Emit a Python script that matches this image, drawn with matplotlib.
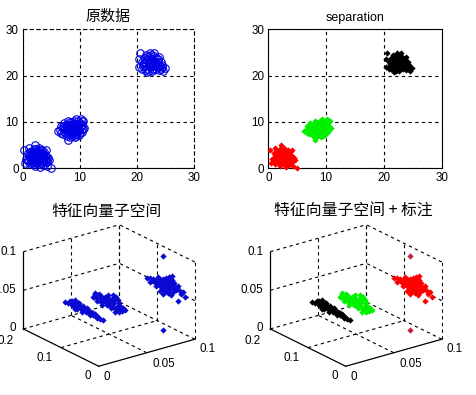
"""Clusters in the original data and in the eigenvector subspace, 2 x 2 panels."""
import matplotlib
matplotlib.use("Agg")
import matplotlib.pyplot as plt
from mpl_toolkits.mplot3d import proj3d

plt.rcParams["font.family"] = ["Liberation Sans", "DejaVu Sans"]

W, H = 477, 395
CJK = ["Noto Sans CJK SC", "DejaVu Sans"]
DASH = (0, (3, 3))

ticks_2d = [0, 10, 20, 30]

# points (x, y)
low_2d = [(0.3, 3.9), (0.4, 1.2), (0.6, 2.0), (1.0, 3.2), (1.1, 4.3), (1.2, 1.0), (2.2, 5.0), (2.3, 4.2),
          (2.8, 4.3), (3.4, 3.9), (4.1, 3.9), (3.6, 3.0), (4.6, 1.8), (4.0, 1.3), (4.9, 0.1), (4.3, 0.6),
          (3.0, 0.3), (2.8, 1.0), (2.0, 0.9), (1.7, 1.3), (1.5, 2.0), (1.8, 3.0), (2.0, 3.6), (2.5, 3.4),
          (3.0, 3.5), (3.3, 2.6), (2.8, 2.3), (2.3, 2.5), (2.5, 1.7), (3.2, 1.8), (3.8, 2.2), (4.2, 2.5),
          (1.2, 2.4), (1.6, 3.7), (2.9, 2.9), (2.1, 1.9),
          (1.0, 1.6), (1.4, 1.1), (1.9, 1.5), (2.4, 1.2), (2.9, 1.5), (3.4, 1.2), (3.9, 1.7), (4.3, 1.5),
          (0.9, 2.1), (1.4, 2.6), (1.9, 2.2), (2.6, 2.1), (3.1, 2.2), (3.6, 1.9), (4.1, 2.0), (1.1, 2.8),
          (1.6, 3.2), (2.2, 2.9), (2.6, 2.8), (3.1, 2.7), (3.6, 2.6), (3.9, 2.9), (1.3, 3.5), (1.9, 3.4),
          (2.4, 3.8), (2.8, 3.3), (3.3, 3.2), (3.7, 3.5), (2.0, 4.1), (3.1, 3.9), (1.6, 1.7), (2.3, 1.4),
          (3.6, 1.4), (4.4, 2.2), (2.1, 0.5), (3.5, 0.8)]
mid_2d = [(6.1, 8.0), (6.7, 7.6), (7.0, 8.6), (7.3, 9.8), (7.7, 7.0), (8.0, 10.2), (8.0, 6.2), (8.6, 10.0),
          (8.5, 7.5), (9.3, 10.7), (9.2, 6.7), (10.2, 10.7), (10.1, 9.8), (10.8, 8.8), (10.4, 7.9), (9.8, 7.2),
          (9.5, 8.3), (8.9, 9.0), (8.2, 8.9), (7.6, 8.2), (7.9, 9.3), (9.0, 7.9), (10.0, 9.0), (9.4, 9.6),
          (8.3, 7.9), (7.2, 7.9), (10.6, 10.3), (9.7, 8.8), (6.7, 9.1),
          (7.1, 7.3), (7.5, 7.7), (8.0, 7.3), (8.6, 6.9), (9.1, 7.3), (9.5, 7.6), (10.0, 7.7), (10.3, 8.4),
          (9.9, 8.3), (9.2, 8.6), (8.6, 8.4), (8.0, 8.3), (7.4, 8.7), (7.7, 9.0), (8.3, 9.4), (8.8, 9.5),
          (9.4, 9.1), (9.9, 9.5), (10.4, 9.3), (7.5, 9.4), (8.2, 9.9), (8.9, 10.3), (9.7, 10.2), (10.3, 10.2),
          (7.1, 9.1), (8.7, 7.9), (9.4, 7.0), (8.3, 6.8), (10.6, 8.4), (6.6, 8.3), (9.0, 8.2)]
high_2d = [(20.5, 24.8), (20.4, 23.5), (20.4, 21.8), (21.0, 22.6), (21.4, 21.2), (21.8, 20.7), (22.2, 24.9),
           (22.3, 23.8), (22.6, 21.0), (23.0, 24.8), (23.2, 23.0), (23.3, 21.4), (23.9, 24.0), (24.2, 23.0),
           (24.1, 21.4), (24.8, 21.6), (24.6, 20.9), (24.4, 22.2), (21.5, 23.3), (22.0, 22.3), (22.7, 22.7),
           (21.9, 23.6), (23.0, 22.0), (23.7, 22.4), (21.4, 22.1),  (22.6, 23.5),
           (20.9, 21.5), (21.2, 23.8), (21.8, 21.5), (22.1, 21.1), (22.3, 21.8), (22.8, 21.5), (23.4, 21.9),
           (23.8, 21.2), (24.3, 21.8), (23.6, 23.0), (23.3, 23.7), (22.9, 24.2), (22.4, 24.4), (21.9, 24.2),
           (21.6, 22.7), (22.2, 23.0), (22.8, 23.2), (23.3, 22.5), (24.0, 22.0), (20.8, 23.0), (21.1, 22.0),
           (22.5, 22.2), (23.7, 23.5), (21.5, 24.4)]

# points (x, y, z)
first_3d = [(0.004, 0.100, 0.058), (0.004, 0.092, 0.058), (0.004, 0.086, 0.062), (0.005, 0.082, 0.056),
            (0.003, 0.078, 0.064), (0.004, 0.075, 0.059), (0.004, 0.072, 0.067), (0.004, 0.072, 0.055),
            (0.005, 0.068, 0.062), (0.003, 0.065, 0.057), (0.004, 0.062, 0.065), (0.004, 0.058, 0.059),
            (0.005, 0.055, 0.063), (0.003, 0.052, 0.056), (0.004, 0.048, 0.062), (0.004, 0.045, 0.058),
            (0.004, 0.042, 0.064), (0.005, 0.038, 0.058), (0.004, 0.035, 0.062), (0.004, 0.032, 0.057),
            (0.003, 0.028, 0.063), (0.004, 0.024, 0.059), (0.004, 0.020, 0.061), (0.005, 0.016, 0.057),
            (0.004, 0.012, 0.060), (0.004, 0.006, 0.058), (0.004, 0.000, 0.058),
            (0.004, 0.084, 0.059), (0.004, 0.080, 0.060), (0.004, 0.076, 0.063), (0.004, 0.070, 0.059),
            (0.004, 0.066, 0.064), (0.004, 0.064, 0.060), (0.004, 0.060, 0.062), (0.004, 0.056, 0.060),
            (0.004, 0.053, 0.060), (0.004, 0.050, 0.059), (0.004, 0.046, 0.061), (0.004, 0.040, 0.061),
            (0.004, 0.036, 0.059), (0.004, 0.030, 0.060), (0.004, 0.026, 0.061), (0.004, 0.022, 0.060),
            (0.004, 0.018, 0.059)]
second_3d = [(0.032, 0.097, 0.055), (0.032, 0.092, 0.060), (0.031, 0.088, 0.063), (0.032, 0.085, 0.053),
             (0.033, 0.080, 0.058), (0.032, 0.076, 0.062), (0.032, 0.072, 0.051), (0.031, 0.070, 0.056),
             (0.032, 0.066, 0.062), (0.033, 0.062, 0.053), (0.032, 0.058, 0.067), (0.032, 0.056, 0.058),
             (0.031, 0.052, 0.064), (0.032, 0.050, 0.052), (0.033, 0.048, 0.060), (0.032, 0.044, 0.071),
             (0.032, 0.042, 0.065), (0.031, 0.040, 0.056), (0.032, 0.038, 0.050), (0.032, 0.036, 0.070),
             (0.033, 0.034, 0.066), (0.032, 0.030, 0.060), (0.032, 0.028, 0.052), (0.031, 0.024, 0.062),
             (0.032, 0.020, 0.056), (0.032, 0.016, 0.061), (0.032, 0.012, 0.059),
             (0.032, 0.094, 0.056), (0.032, 0.088, 0.057), (0.032, 0.082, 0.062), (0.032, 0.078, 0.055),
             (0.032, 0.074, 0.059), (0.032, 0.068, 0.058), (0.032, 0.064, 0.058), (0.032, 0.060, 0.063),
             (0.032, 0.060, 0.056), (0.032, 0.054, 0.061), (0.032, 0.053, 0.055), (0.032, 0.046, 0.056),
             (0.032, 0.046, 0.065), (0.032, 0.040, 0.061), (0.032, 0.036, 0.054), (0.032, 0.032, 0.056),
             (0.032, 0.028, 0.064), (0.032, 0.026, 0.058), (0.032, 0.022, 0.060), (0.032, 0.018, 0.058)]
third_3d = [(0.090, 0.100, 0.059), (0.090, 0.094, 0.060), (0.089, 0.090, 0.056), (0.090, 0.086, 0.061),
            (0.091, 0.082, 0.057), (0.090, 0.078, 0.053), (0.090, 0.074, 0.062), (0.089, 0.070, 0.068),
            (0.090, 0.068, 0.056), (0.090, 0.066, 0.050), (0.091, 0.062, 0.062), (0.090, 0.060, 0.048),
            (0.090, 0.058, 0.067), (0.089, 0.055, 0.056), (0.090, 0.052, 0.070), (0.090, 0.050, 0.061),
            (0.091, 0.048, 0.052), (0.090, 0.045, 0.066), (0.090, 0.042, 0.074), (0.089, 0.040, 0.058),
            (0.090, 0.038, 0.052), (0.090, 0.036, 0.077), (0.091, 0.035, 0.056), (0.090, 0.032, 0.068),
            (0.090, 0.030, 0.061), (0.089, 0.026, 0.070), (0.090, 0.024, 0.062), (0.090, 0.019, 0.068),
            (0.090, 0.019, 0.049), (0.090, 0.012, 0.059), (0.090, 0.006, 0.063), (0.090, 0.000, 0.058),
            (0.090, 0.084, 0.058), (0.090, 0.080, 0.060), (0.090, 0.076, 0.057), (0.090, 0.072, 0.065),
            (0.090, 0.071, 0.059), (0.090, 0.064, 0.057), (0.090, 0.064, 0.065), (0.090, 0.060, 0.058),
            (0.090, 0.056, 0.062), (0.090, 0.054, 0.066), (0.090, 0.053, 0.053), (0.090, 0.049, 0.057),
            (0.090, 0.047, 0.064), (0.090, 0.046, 0.060), (0.090, 0.044, 0.070), (0.090, 0.042, 0.062),
            (0.090, 0.040, 0.068), (0.090, 0.036, 0.064), (0.090, 0.034, 0.072), (0.090, 0.033, 0.060),
            (0.090, 0.028, 0.065), (0.090, 0.022, 0.065), (0.090, 0.015, 0.062)]
stray_3d = [(0.0865, 0.050, 0.101), (0.0865, 0.050, 0.0044)]


def plot_flat(ax, title, title_kw, groups, **marker):
    for pts, color in groups:
        xs, ys = zip(*pts)
        ax.plot(xs, ys, ls="none", color=color, clip_on=False, zorder=3, **marker)
    ax.set_xlim(0, 30)
    ax.set_ylim(0, 30)
    ax.set_xticks(ticks_2d)
    ax.set_yticks(ticks_2d)
    ax.tick_params(direction="in", length=2, width=0.7, labelsize=8.4, pad=3, top=False, right=False)
    ax.grid(True, color="k", lw=0.8, ls=DASH)
    ax.set_axisbelow(True)
    for spine in ax.spines.values():
        spine.set_linewidth(0.8)
    ax.set_title(title, pad=6, **title_kw)


def tick_text(ax, pos, text, dx, dy, ha="center"):
    px, py, _ = proj3d.proj_transform(*pos, ax.get_proj())
    ax.annotate(text, (px, py), xytext=(dx, dy), textcoords="offset pixels",
                ha=ha, va="center", fontsize=8.4, annotation_clip=False)


def plot_space(ax, groups):
    ax.set_proj_type("ortho")
    ax.view_init(elev=21.9, azim=-127)
    ax.set_box_aspect((120, 125, 83))
    ax.set_xlim(0, 0.1)
    ax.set_ylim(0, 0.2)
    ax.set_zlim(0, 0.1)
    ax.set_axis_off()
    ax.computed_zorder = False
    grid = dict(color="k", lw=0.8, ls=DASH)
    for v in (0.05, 0.1):
        ax.plot([v, v], [0, 0.2], [0, 0], **grid)
        ax.plot([v, v], [0.2, 0.2], [0, 0.1], **grid)
    for v in (0.1, 0.2):
        ax.plot([0, 0.1], [v, v], [0, 0], **grid)
        ax.plot([0.1, 0.1], [v, v], [0, 0.1], **grid)
    ax.plot([0.1, 0.1], [0, 0], [0, 0.1], **grid)
    for v in (0.05, 0.1):
        ax.plot([0, 0.1], [0.2, 0.2], [v, v], **grid)
        ax.plot([0.1, 0.1], [0, 0.2], [v, v], **grid)
    solid = dict(color="k", lw=0.9)
    ax.plot([0, 0.1], [0, 0], [0, 0], **solid)
    ax.plot([0, 0], [0, 0.2], [0, 0], **solid)
    ax.plot([0, 0], [0.2, 0.2], [0, 0.1], **solid)
    for pts, color in groups:
        xs, ys, zs = zip(*pts)
        ax.plot(xs, ys, zs, ls="none", marker="D", ms=3.2, mew=0, color=color)
    tick_text(ax, (0, 0.2, 0), "0", -7, 1, ha="right")
    tick_text(ax, (0, 0.2, 0.05), "0.05", -7, 0, ha="right")
    tick_text(ax, (0, 0.2, 0.1), "0.1", -7, 0, ha="right")
    tick_text(ax, (0, 0, 0), "0", 8, -11)
    tick_text(ax, (0.05, 0, 0), "0.05", 17, -11)
    tick_text(ax, (0.1, 0, 0), "0.1", 13, -10)
    tick_text(ax, (0, 0, 0), "0", -11, -10)
    tick_text(ax, (0, 0.1, 0), "0.1", -16, -10)
    tick_text(ax, (0, 0.2, 0), "0.2", -18, -12)


def add_flat(left, right, top=29.3, bottom=168.3):
    return fig.add_axes([left / W, 1 - bottom / H, (right - left) / W, (bottom - top) / H])


def add_space(cx, cy=298, size=187):
    return fig.add_axes([(cx - size / 2) / W, 1 - (cy + size / 2) / H, size / W, size / H], projection="3d")


fig = plt.figure(figsize=(W / 100, H / 100), dpi=100, facecolor="white")

ax = add_flat(22.7, 194.3)
plot_flat(ax, "原数据", dict(fontsize=10.8, family=CJK), [(low_2d + mid_2d + high_2d, "#0000e6")],
          marker="o", ms=5.4, mew=0.8, mfc="none")
ax.spines["top"].set_linestyle(DASH)
ax.spines["right"].set_linestyle(DASH)

ax = add_flat(268.3, 441.7)
plot_flat(ax, "separation", dict(fontsize=9), [(low_2d, "#ff0000"), (mid_2d, "#00f000"), (high_2d, "#000000")],
          marker="D", ms=3.2, mew=0)

ax = add_space(106.5)
plot_space(ax, [(first_3d + second_3d + third_3d + stray_3d, "#0a0ad2")])
fig.text(106.7 / W, 1 - 211 / H, "特征向量子空间", ha="center", va="center", fontsize=11.3, family=CJK)

ax = add_space(353.5)
plot_space(ax, [(first_3d, "#000000"), (second_3d, "#00f000"), (third_3d, "#ff0000"), (stray_3d, "#c0203c")])
fig.text(353.8 / W, 1 - 211 / H, "特征向量子空间 + 标注", ha="center", va="center", fontsize=11.4, family=CJK)

fig.savefig("out.png", dpi=100)
